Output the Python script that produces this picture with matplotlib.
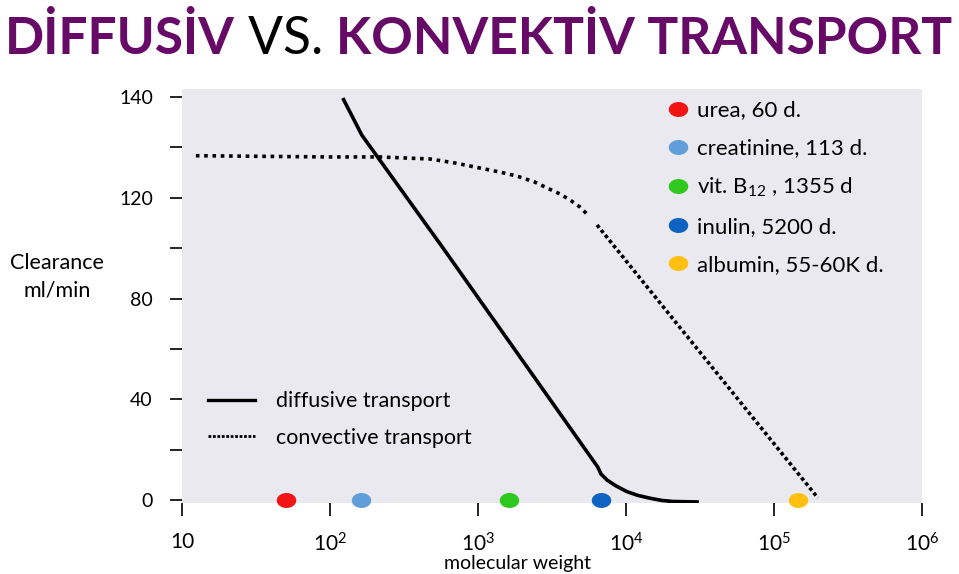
import matplotlib
matplotlib.use('Agg')
import matplotlib.pyplot as plt
from matplotlib.path import Path
from matplotlib.lines import Line2D
import numpy as np

plt.rcParams['font.family'] = ['Lato', 'DejaVu Sans']
plt.rcParams['mathtext.fontset'] = 'custom'
plt.rcParams['mathtext.rm'] = 'Lato'
plt.rcParams['mathtext.it'] = 'Lato:italic'
plt.rcParams['mathtext.bf'] = 'Lato:bold'

# diffusive transport curve (molecular weight, clearance ml/min)
diff_mw = [122, 164, 581, 6440, 6780, 7450, 8550, 10160, 12050, 14520,
           17500, 20800, 31100]
diff_cl = [159.6, 144.9, 100.0, 13.1, 10.3, 7.9, 5.6, 3.3, 1.8, 0.7,
           -0.2, -0.6, -0.8]

# convective transport curve, upper and lower part
conv_mw = [12.4, 100, 218, 474, 700, 1032, 1409, 1837, 2427, 2926, 3581,
           4188, 4890, 5540]
conv_cl = [136.7, 136.2, 136.2, 135.4, 133.8, 131.8, 130.2, 128.6, 126.2,
           123.9, 121.5, 119.1, 116.3, 113.1]
conv2_mw = [6370, 198000]
conv2_cl = [109.2, 0.8]

# solutes shown on the x axis
solutes = ['urea, 60 d.', 'creatinine, 113 d.', 'vit. B$_{12}$ , 1355 d',
           'inulin, 5200 d.', 'albumin, 55-60K d.']
solute_mw = [50.4, 162, 1620, 6780, 145000]
solute_col = ['#F21414', '#5F9ED8', '#2FC81F', '#0E62C2', '#FFC012']

yticks = [0, 20, 40, 60, 80, 100, 120, 140, 160]
ylabels = ['0', '', '40', '', '80', '', '120', '', '140']
xticks = [1e1, 1e2, 1e3, 1e4, 1e5, 1e6]
xlabels = ['10', '10$^{2}$', '10$^{3}$', '10$^{4}$', '10$^{5}$', '10$^{6}$']

purple = '#670A67'

fig = plt.figure(figsize=(9.59, 5.74), dpi=100)
ax = fig.add_axes([0.1898, 0.1237, 0.7716, 0.7213])
ax.set_facecolor('#EBE9F0')
for s in ax.spines.values():
    s.set_visible(False)

ax.set_xscale('log')
ax.set_xlim(10, 1e6)
ax.set_ylim(-1.2, 163.2)

ax.plot(diff_mw, diff_cl, color='black', lw=2.6, solid_capstyle='butt')
ax.plot(conv_mw, conv_cl, color='black', lw=2.6, linestyle=(0, (1, 1.3)))
ax.plot(conv2_mw, conv2_cl, color='black', lw=2.6, linestyle=(0, (1, 0.8)))

# elliptic dot marker
t = np.linspace(0, 2 * np.pi, 60)
ell = Path(np.column_stack([np.cos(t), 0.75 * np.sin(t)]), closed=True)

for mw, c in zip(solute_mw, solute_col):
    ax.plot([mw], [0], marker=ell, ms=13, color=c, mec=c, ls='none',
            clip_on=False, zorder=5)

ax.set_xticks(xticks)
ax.set_xticklabels(xlabels)
ax.minorticks_off()
ax.set_yticks(yticks)
ax.set_yticklabels(ylabels)
ax.tick_params(axis='both', length=9, width=1.2, color='black',
               labelsize=14, pad=12)
ax.tick_params(axis='x', labelsize=15)

fig.text(518 / 959, 1 - 563 / 574, 'molecular weight', ha='center',
         va='center', fontsize=14)
fig.text(57 / 959, 1 - 277 / 574, 'Clearance\nml/min', ha='center',
         va='center', fontsize=15.5, linespacing=1.5)

# legend for curves
h1 = [Line2D([], [], color='black', lw=2.4),
      Line2D([], [], color='black', lw=2.0, linestyle=(0, (1, 0.6)))]
leg1 = ax.legend(h1, ['diffusive transport', 'convective transport'],
                 loc='upper left', bbox_to_anchor=(0.035, 0.27),
                 frameon=False, fontsize=15.5, handlelength=2.2,
                 handletextpad=0.95, labelspacing=0.78, borderpad=0,
                 borderaxespad=0)
ax.add_artist(leg1)

# legend for solutes
h2 = [Line2D([], [], marker=ell, ms=13, color=c, ls='none') for c in solute_col]
ax.legend(h2, solutes, loc='upper left', bbox_to_anchor=(0.656, 0.972),
          frameon=False, fontsize=16, handlelength=0.95, handletextpad=0.38,
          labelspacing=0.8, borderpad=0, borderaxespad=0)

# title in three parts, fitted to the figure width
parts = [('DİFFUSİV', purple, 'bold'), (' VS. ', 'black', 'normal'),
         ('KONVEKTİV TRANSPORT', purple, 'bold')]
r = fig.canvas.get_renderer()


def draw_title(size):
    x = 5 / 959
    objs = []
    for txt, col, w in parts:
        tt = fig.text(x, 1 - 54 / 574, txt, color=col, fontweight=w,
                      fontsize=size, va='baseline', ha='left')
        bb = tt.get_window_extent(r)
        x = bb.x1 / fig.bbox.width
        objs.append(tt)
    return objs, x * fig.bbox.width


objs, xend = draw_title(50)
for o in objs:
    o.remove()
size = 50 * (955 - 5) / (xend - 5)
draw_title(size)

fig.savefig('out.png', dpi=100)
